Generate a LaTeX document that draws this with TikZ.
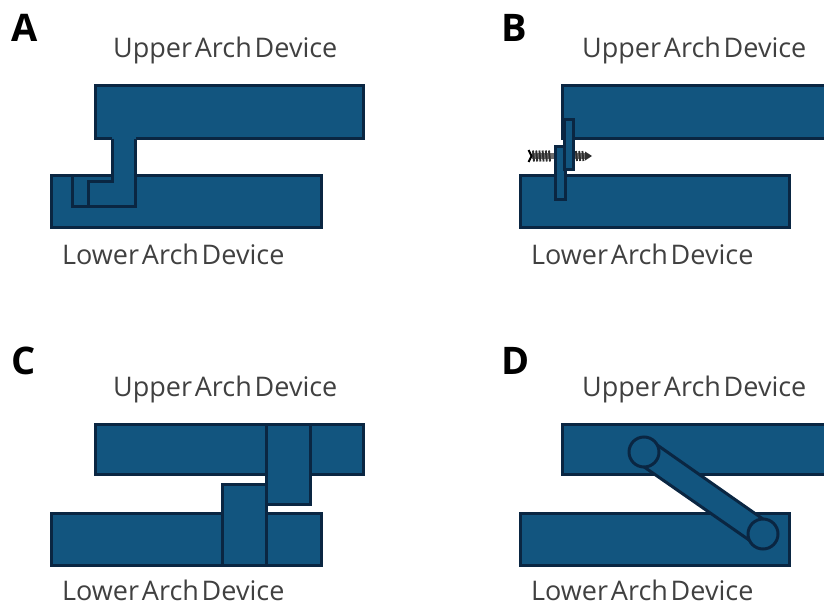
\documentclass[tikz,border=0pt]{standalone}
\usepackage{fontspec}
\setmainfont{Open Sans}
\newfontfamily\lblfont[WordSpace=0.4]{Open Sans}
\definecolor{devfill}{HTML}{12557F}
\definecolor{devline}{HTML}{0A2642}
\definecolor{screwc}{HTML}{2E2E2E}
\tikzset{
  x=1pt,y=-1pt,
  part/.style={draw=devline,fill=devfill,line width=3pt,line join=miter},
  thin part/.style={draw=devline,line width=3pt},
  devlabel/.style={font=\lblfont\fontsize{27}{30}\selectfont,text=black!75,inner sep=0pt,anchor=base west},
  panel/.style={font=\bfseries\fontsize{38}{42}\selectfont,text=black,inner sep=0pt,anchor=base west}
}
\begin{document}
\begin{tikzpicture}
\useasboundingbox (0,0) rectangle (824,602);
% Panel A
\node[panel] (pa) at (11,42) {A};
\node[devlabel] (ua) at (113,58) {Upper Arch Device};
\node[devlabel] (la) at (62,264) {Lower Arch Device};
\path[part] (95,85.5) rectangle (363,138.5);
\path[part] (51.5,175.5) rectangle (321.5,227.5);
\path[fill=devfill] (112,137) rectangle (136,206);
\path[thin part] (72.5,175.5) -- (72.5,206) -- (135.5,206) -- (135.5,138.5);
\path[thin part] (112,138.5) -- (112,181.5) -- (88,181.5) -- (88,206);
% Panel B
\node[panel] (pb) at (501,42) {B};
\node[devlabel] (ub) at (582,58) {Upper Arch Device};
\node[devlabel] (lb) at (531,264) {Lower Arch Device};
\path[part] (826,85.5) -- (562,85.5) -- (562,138.5) -- (826,138.5);
\path[part] (520.5,175.5) rectangle (789.5,227.5);
% screw
\draw[screwc!70,line width=6pt] (532,156) -- (554,156);
\draw[screwc!70,line width=6pt] (574,156) -- (586,156);
\foreach \sx in {533,536.2,...,552}{\draw[screwc,line width=1.9pt] (\sx,150.5) -- (\sx+1,161.5);}
\foreach \sx in {576,579.2,582.4}{\draw[screwc,line width=1.9pt] (\sx,151) -- (\sx+1,161);}
\draw[black,line width=2pt] (528.5,150) -- (531.5,156) -- (528.5,162);
\fill[screwc] (585,151.5) -- (592,156) -- (585,160.5) -- cycle;
\path[part] (555,146.5) rectangle (565.5,199);
\path[part] (564,119) rectangle (573,169.5);
% Panel C
\node[panel] (pc) at (11,374) {C};
\node[devlabel] (uc) at (113,396) {Upper Arch Device};
\node[devlabel] (lc) at (62,600) {Lower Arch Device};
\path[part] (95,424) rectangle (363,474);
\path[part] (51.5,513.5) rectangle (321.5,565.5);
\path[part] (266.5,424) rectangle (310,504.5);
\path[part] (222.5,484) rectangle (266.5,565);
% Panel D
\node[panel] (pd) at (501,374) {D};
\node[devlabel] (ud) at (582,396) {Upper Arch Device};
\node[devlabel] (ld) at (531,600) {Lower Arch Device};
\path[part] (826,424) -- (562,424) -- (562,474) -- (826,474);
\path[part] (520.5,513.5) rectangle (789.5,565.5);
\path[part] (651.5,441) -- (770,524) -- (755.5,544.5) -- (637,462) -- cycle;
\node[part,circle,inner sep=0pt,minimum size=30pt] (c1) at (644,452) {};
\node[part,circle,inner sep=0pt,minimum size=30pt] (c2) at (763,534) {};
\end{tikzpicture}
\end{document}
